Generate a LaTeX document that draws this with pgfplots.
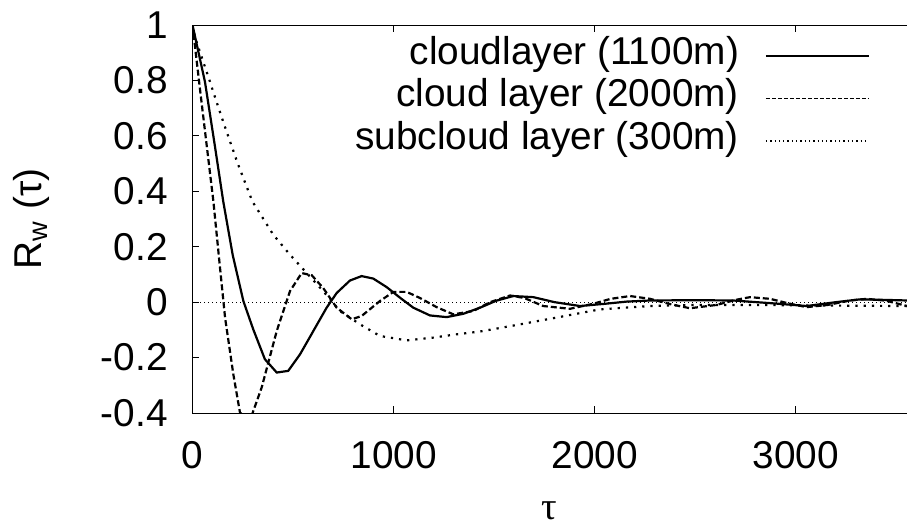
\documentclass[border=0pt]{standalone}
\usepackage{pgfplots}
\pgfplotsset{compat=1.18}
\usepackage{fontspec}
\setmainfont{Liberation Sans}
\newfontfamily\serif{Liberation Serif}

\begin{document}
\fontsize{19.4}{23}\selectfont
\begin{tikzpicture}
\begin{axis}[
  name=ax,
  scale only axis,
  width=357.25pt, height=194pt,
  xmin=0, xmax=3553,
  ymin=-0.4, ymax=1,
  axis x line*=box, axis y line*=left,
  x axis line style={-}, y axis line style={-},
  xtick pos=both, ytick pos=left,
  tick align=inside,
  major tick length=3.5pt,
  every tick/.style={black, line width=0.5pt},
  axis line style={line width=0.5pt},
  xtick={0,1000,2000,3000},
  xticklabels={0,1000,2000,3000},
  ytick={-0.4,-0.2,0,0.2,0.4,0.6,0.8,1},
  yticklabels={-0.4,-0.2,0,0.2,0.4,0.6,0.8,1},
  xticklabel style={inner sep=0pt, anchor=north, yshift=-14pt},
  yticklabel style={inner sep=0pt, anchor=east, xshift=-12.25pt},
  xlabel={\serif τ},
  ylabel={R\textsubscript{w} (τ)},
  xlabel style={at={(axis description cs:0.5,-0.252)}, anchor=center, inner sep=0pt},
  ylabel style={at={(axis description cs:-0.226,0.5)}, anchor=center, rotate=0},
  legend plot pos=right,
  legend image code/.code={\draw[#1] (0pt,0pt) -- (51.5pt,0pt);},
  legend style={draw=none, fill=none, inner sep=0pt, outer sep=0pt,
    at={(axis description cs:0.9482,0.9704)}, anchor=north east,
    column sep=13pt, row sep=1.75pt,
    nodes={inner sep=0pt, text height=14pt, text depth=5.5pt},
    cells={anchor=east}},
]
% zero axis
\addplot[forget plot, line width=0.45pt, dash pattern=on 0.5pt off 1.5pt] coordinates {(0,0) (3553,0)};

% cloudlayer (1100m)
\addplot[forget plot, black, line width=1.1pt] coordinates {
(0,1) (62,0.795) (110,0.57) (153,0.363) (200,0.17) (253,0.004) (302,-0.098)
(360,-0.206) (419,-0.254) (476,-0.248) (535,-0.188) (601,-0.104) (667,-0.02)
(717,0.033) (783,0.078) (841,0.094) (899,0.085) (966,0.054) (1032,0.016)
(1098,-0.02) (1181,-0.048) (1264,-0.054) (1347,-0.042) (1430,-0.02)
(1510,0.005) (1595,0.022) (1695,0.018) (1800,0.0) (1927,-0.014) (2050,-0.006)
(2160,0.002) (2275,0.006) (2500,0.007) (2688,0.006) (2900,-0.005) (3054,-0.014)
(3200,0.0) (3319,0.01) (3450,0.008) (3553,0.006)
};

% cloud layer (2000m)
\addplot[forget plot, black, line width=1.1pt, dash pattern=on 3pt off 1.5pt] coordinates {
(0,1) (37,0.77) (104,0.363) (137,0.123) (162,-0.056) (203,-0.26) (236,-0.398)
(265,-0.42) (294,-0.41) (344,-0.308) (419,-0.104) (485,0.04) (543,0.105)
(593,0.097) (650,0.051) (717,-0.02) (792,-0.062) (841,-0.05) (932,0.004)
(999,0.037) (1065,0.037) (1131,0.015) (1214,-0.018) (1297,-0.044) (1396,-0.032)
(1480,0.0) (1580,0.024) (1650,0.015) (1744,-0.014) (1877,-0.024) (1992,-0.006)
(2080,0.012) (2176,0.022) (2275,0.012) (2380,-0.008) (2474,-0.022) (2606,-0.01)
(2700,0.008) (2772,0.018) (2872,0.012) (2960,-0.004) (3054,-0.018) (3160,-0.01)
(3270,0.006) (3353,0.012) (3450,0.005) (3553,-0.014)
};

% subcloud layer (300m)
\addplot[forget plot, black, line width=1.1pt, dash pattern=on 1.1pt off 3pt] coordinates {
(0,1) (12,0.957) (80,0.81) (153,0.65) (225,0.5) (298,0.363) (402,0.243)
(485,0.171) (568,0.105) (650,0.04) (733,-0.032) (833,-0.08) (932,-0.122)
(1065,-0.138) (1197,-0.128) (1314,-0.116) (1430,-0.106) (1600,-0.084)
(1778,-0.06) (2027,-0.026) (2275,-0.014) (2500,-0.01) (2772,-0.01)
(3100,-0.012) (3553,-0.014)
};

% legend samples: thinner than the curves, as in the original
\addlegendimage{black, line width=1pt}
\addlegendentry{cloudlayer (1100m)}
\addlegendimage{black, line width=0.65pt, dash pattern=on 2pt off 1pt}
\addlegendentry{cloud layer (2000m)}
\addlegendimage{black, line width=0.65pt, dash pattern=on 0.65pt off 1.5pt}
\addlegendentry{subcloud layer (300m)}
\end{axis}
\pgfresetboundingbox
\path ([xshift=-96.25pt,yshift=-56.5pt]ax.south west) rectangle ([yshift=12.5pt]ax.north east);
\end{tikzpicture}
\end{document}
